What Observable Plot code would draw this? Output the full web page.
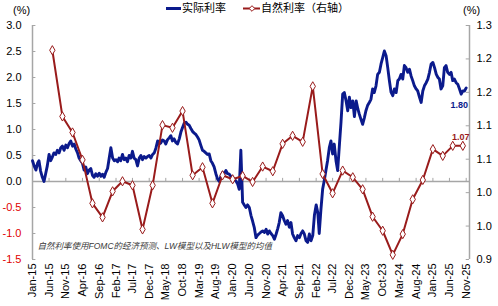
<!DOCTYPE html>
<html><head><meta charset="utf-8">
<script src="https://cdn.jsdelivr.net/npm/d3@7"></script>
<script src="https://cdn.jsdelivr.net/npm/@observablehq/plot@0.6"></script>
<style>
body{margin:0;background:#fff;}
#wrap{position:relative;width:498px;height:306px;font-family:"Liberation Sans",Arial,"Noto Sans CJK SC",sans-serif;}
.lbl{position:absolute;font-size:11px;color:#000;white-space:nowrap;line-height:11px;}
</style></head><body><div id="wrap"></div>
<script>
// Real rate (实际利率), half-month readings starting Jan 2015 (left axis, %)
const realValues = [
0.40,0.30,0.22,0.35,0.40,0.20,0.08,0.00,0.15,0.30,0.52,0.40,0.47,0.55,0.52,0.60,0.55,0.65,0.68,0.60,
0.70,0.65,0.73,0.78,0.68,0.72,0.62,0.55,0.45,0.40,0.35,0.22,0.28,0.15,0.22,0.25,0.12,0.08,0.15,0.10,
0.16,0.10,0.14,0.08,0.18,0.25,0.45,0.65,0.45,0.40,0.42,0.38,0.45,0.40,0.52,0.42,0.45,0.38,0.50,0.45,
0.58,0.45,0.42,0.30,0.45,0.50,0.42,0.48,0.45,0.48,0.50,0.45,0.52,0.55,0.65,0.78,0.72,0.74,0.80,0.78,
0.72,0.80,0.84,0.88,0.78,0.82,0.75,0.72,0.82,0.95,1.04,1.12,1.14,1.10,1.08,1.02,0.96,0.93,0.90,0.85,
0.80,0.70,0.60,0.58,0.55,0.52,0.53,0.40,0.35,0.28,0.15,0.05,0.00,0.10,0.17,0.15,0.21,0.15,0.14,0.10,
0.08,0.04,0.01,-0.05,-0.15,0.60,-0.40,-0.45,-0.50,-0.45,-0.50,-0.65,-0.76,-0.88,-1.08,-1.03,-1.00,-0.97,-0.95,-0.98,
-0.92,-1.01,-0.95,-1.00,-1.04,-1.11,-1.01,-0.90,-0.79,-0.60,-0.66,-0.75,-0.82,-0.75,-0.88,-0.79,-1.01,-1.08,-1.14,-1.04,
-1.08,-1.00,-0.95,-1.01,-1.14,-1.17,-1.01,-1.14,-1.04,-0.65,-0.45,-0.60,-1.00,-0.55,-0.15,0.02,0.21,0.40,0.65,0.78,
0.53,0.72,0.40,0.21,0.70,1.15,1.68,1.71,1.55,1.36,1.62,1.42,1.55,1.25,1.55,1.40,1.30,1.20,1.10,1.22,
1.36,1.46,1.52,1.58,1.78,1.71,1.84,2.06,2.10,2.26,2.38,2.51,2.42,2.19,1.94,1.72,1.65,1.78,1.71,1.94,
1.97,2.06,1.97,2.23,2.19,2.10,2.16,2.03,1.94,1.84,1.78,1.74,1.62,1.52,1.74,1.84,1.90,1.97,2.10,2.26,
2.29,2.19,2.06,2.00,1.97,1.78,1.84,2.19,2.23,2.10,2.06,2.10,1.94,1.97,1.90,1.87,1.78,1.68,1.74,1.74,
1.80
];
// Natural rate (自然利率), quarterly from Jul 2015 (right axis, %)
const naturalValues = [
1.213,1.114,1.090,1.049,0.984,0.963,1.002,1.017,1.011,0.945,
1.011,1.101,1.097,1.122,1.026,1.038,0.984,1.026,1.020,1.025,
1.016,1.039,1.032,1.073,1.085,1.076,1.159,1.028,0.999,1.033,
1.023,1.005,0.964,0.943,0.907,0.938,0.990,1.019,1.065,1.055,
1.070,1.070
];
const leftTicks = [-1.5,-1.0,-0.5,0,0.5,1.0,1.5,2.0,2.5,3.0];
const rightTicks = [0.9,0.95,1.0,1.05,1.1,1.15,1.2,1.25];
const rightTickLabels = ["0.9","1.0","1.0","1.1","1.1","1.2","1.2","1.3"];
const xTickMonths = [0,5,10,15,20,25,30,35,40,45,50,55,60,65,70,75,80,85,90,95,100,105,110,115,120,125,130];
const seriesNames = ["实际利率","自然利率（右轴）"];
const noteText = "自然利率使用FOMC的经济预测、LW模型以及HLW模型的均值";

const BLUE = "#0b1a8c", RED = "#991b1b", GREY = "#a6a6a6";
const leftDomain = [-1.5, 3.0], rightDomain = [0.9, 1.25];
const toLeft = v => leftDomain[0] + (v - rightDomain[0]) * (leftDomain[1]-leftDomain[0]) / (rightDomain[1]-rightDomain[0]);
const toRight = y => rightDomain[0] + (y - leftDomain[0]) * (rightDomain[1]-rightDomain[0]) / (leftDomain[1]-leftDomain[0]);

const real = realValues.map((v,i)=>({date:new Date(Date.UTC(2015, Math.floor(i/2), i%2 ? 16 : 1)), value:v}));
const natural = naturalValues.map((v,i)=>({date:new Date(Date.UTC(2015, 6+3*i, 1)), value:v, y:toLeft(v)}));
const xStart = new Date(Date.UTC(2015,0,1)), xEnd = new Date(Date.UTC(2025,11,1));
const xTicks = xTickMonths.map(m => new Date(Date.UTC(2015, m, 1)));

const chart = Plot.plot({
  width: 498, height: 306,
  marginLeft: 32, marginRight: 29, marginTop: 25, marginBottom: 47,
  x: {type: "utc", domain: [xStart, xEnd]},
  y: {domain: leftDomain},
  style: {fontFamily: '"Liberation Sans", Arial, "Noto Sans CJK SC", sans-serif', fontSize: "11px", background: "white", overflow: "visible"},
  marks: [
    Plot.ruleY([0], {stroke: GREY, strokeWidth: 1.5}),
    Plot.ruleX(xTicks, {x: d => d, y1: 0, y2: 0.06, stroke: GREY}),
    Plot.ruleX([xStart], {stroke: GREY, strokeWidth: 1.5}),
    Plot.ruleX([xEnd], {stroke: GREY, strokeWidth: 1.5}),
    Plot.ruleY(leftTicks, {y: d => d, x1: xStart, x2: new Date(Date.UTC(2015,1,1)), stroke: GREY}),
    Plot.ruleY(rightTicks.map(toLeft), {y: d => d, x1: new Date(Date.UTC(2025,10,1)), x2: xEnd, stroke: GREY}),
    Plot.line(real, {x: "date", y: "value", stroke: BLUE, strokeWidth: 2.9, curve: "linear"}),
    Plot.line(natural, {x: "date", y: "y", stroke: RED, strokeWidth: 2}),
    Plot.dot(natural, {x: "date", y: "y", symbol: "diamond", r: 2.8, fill: "white", stroke: RED, strokeWidth: 1}),
    Plot.text([real[real.length-1]], {x: "date", y: "value", text: d => d.value.toFixed(2), dy: 17, dx: -7, fill: BLUE, fontWeight: "bold", fontSize: 9}),
    Plot.text([natural[natural.length-1]], {x: "date", y: "y", text: d => d.value.toFixed(2), dy: -9, dx: -2, fill: RED, fontWeight: "bold", fontSize: 9}),
    Plot.text([noteText], {frameAnchor: "bottom-left", text: d => d, dx: 5, dy: -13, lineAnchor: "middle", textAnchor: "start", fontStyle: "italic", fontSize: 8.5, fill: "#3a3a3a"}),
    Plot.axisY(leftTicks.filter(d => d >= 0), {anchor: "left", tickSize: 0, tickPadding: 11, tickFormat: d => d.toFixed(1), fontSize: 11, color: "#000"}),
    Plot.axisY(leftTicks.filter(d => d < 0), {anchor: "left", tickSize: 0, tickPadding: 11, tickFormat: d => d.toFixed(1), fontSize: 11, color: "#e00000"}),
    Plot.axisY(rightTicks.map(toLeft), {anchor: "right", tickSize: 0, tickPadding: 7, tickFormat: d => rightTickLabels[Math.round((toRight(d) - 0.9) / 0.05)], fontSize: 11, color: "#000"}),
    Plot.axisX(xTicks, {anchor: "bottom", tickSize: 0, tickPadding: 4, tickRotate: -90, tickFormat: d3.utcFormat("%b-%y"), fontSize: 11, color: "#000"})
  ]
});
const wrap = document.getElementById("wrap");
wrap.appendChild(chart);

function addLabel(text, left, top){
  const d = document.createElement("div");
  d.className = "lbl"; d.textContent = text;
  d.style.left = left + "px"; d.style.top = top + "px";
  wrap.appendChild(d);
}
addLabel("(%)", 13, 5);
addLabel("(%)", 463, 5);
// legend
const leg = document.createElementNS("http://www.w3.org/2000/svg", "svg");
leg.setAttribute("width", 498); leg.setAttribute("height", 16);
leg.style.position = "absolute"; leg.style.left = "0px"; leg.style.top = "0px";
leg.innerHTML = `<line x1="166" x2="181" y1="8.5" y2="8.5" stroke="${BLUE}" stroke-width="3"/>
<line x1="243" x2="260" y1="8.5" y2="8.5" stroke="${RED}" stroke-width="2"/>
<path d="M252,5.7L254.8,8.5L252,11.3L249.2,8.5Z" fill="white" stroke="${RED}" stroke-width="1"/>`;
wrap.appendChild(leg);
addLabel(seriesNames[0], 182, 3);
addLabel(seriesNames[1], 261, 3);
</script></body></html>
